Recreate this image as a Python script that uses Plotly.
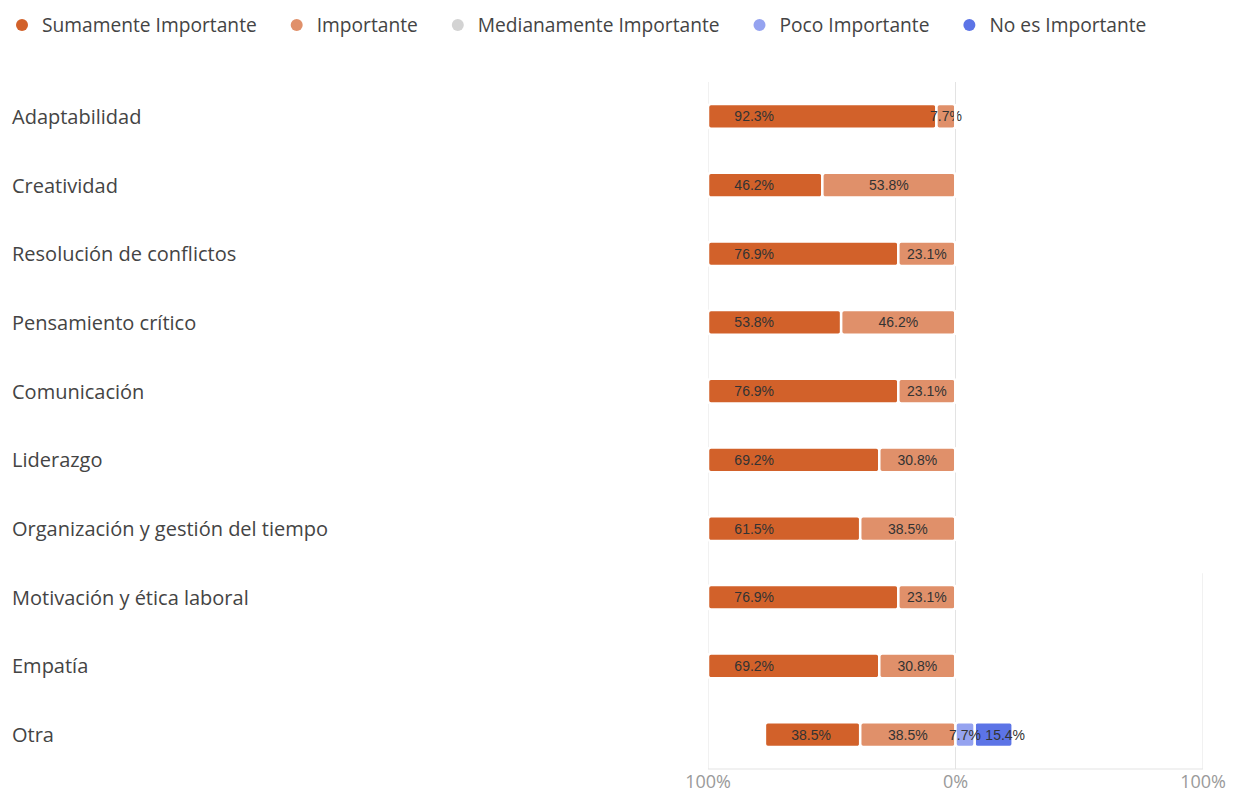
import plotly.graph_objects as go

categories = ["Adaptabilidad", "Creatividad", "Resolución de conflictos", "Pensamiento crítico",
              "Comunicación", "Liderazgo", "Organización y gestión del tiempo",
              "Motivación y ética laboral", "Empatía", "Otra"]
sumamente = [92.3, 46.2, 76.9, 53.8, 76.9, 69.2, 61.5, 76.9, 69.2, 38.5]
importante = [7.7, 53.8, 23.1, 46.2, 23.1, 30.8, 38.5, 23.1, 30.8, 38.5]
medianamente = [0, 0, 0, 0, 0, 0, 0, 0, 0, 0]
poco = [0, 0, 0, 0, 0, 0, 0, 0, 0, 7.7]
no_es = [0, 0, 0, 0, 0, 0, 0, 0, 0, 15.4]

series_names = ["Sumamente Importante", "Importante", "Medianamente Importante",
                "Poco Importante", "No es Importante"]
colors = ["#D2612A", "#E0906A", "#D3D3D3", "#95A3F0", "#5C74E6"]
x_ticks = [-100, 0, 100]
x_ticklabels = ["100%", "0%", "100%"]

W, H = 1233, 794
L, R, T, B = 708, 30, 82, 25
plot_w = W - L - R
plot_h = H - T - B

def lbl(v):
    return f"{v}%" if v > 0 else ""

half_m = [m / 2 for m in medianamente]
base_s = [-(s + i + hm) for s, i, hm in zip(sumamente, importante, half_m)]
base_i = [-(i + hm) for i, hm in zip(importante, half_m)]
base_m = [-hm for hm in half_m]
base_p = [hm for hm in half_m]
base_n = [hm + p for hm, p in zip(half_m, poco)]

fig = go.Figure()
bar_w = 0.36
line = dict(color="white", width=2.5)
textfont = dict(family="Liberation Sans, Arial", size=14, color="#333333")
common = dict(orientation="h", width=bar_w, textangle=0, constraintext="none",
              textfont=textfont, showlegend=False, hoverinfo="skip")

fig.add_trace(go.Bar(y=categories, x=sumamente, base=base_s,
                     marker=dict(color=colors[0], line=line),
                     text=[lbl(v) for v in sumamente],
                     texttemplate="&nbsp;&nbsp;&nbsp;&nbsp;&nbsp;&nbsp;%{text}",
                     textposition="inside", insidetextanchor="start", **common))
fig.add_trace(go.Bar(y=categories, x=importante, base=base_i,
                     marker=dict(color=colors[1], line=line),
                     text=[lbl(v) for v in importante], texttemplate="%{text}",
                     textposition="inside", insidetextanchor="middle", **common))
fig.add_trace(go.Bar(y=categories, x=medianamente, base=base_m,
                     marker=dict(color=colors[2], line=dict(width=0)), **common))
fig.add_trace(go.Bar(y=categories, x=no_es, base=base_n,
                     marker=dict(color=colors[4], line=line),
                     text=[lbl(v) for v in no_es], texttemplate="&nbsp;&nbsp;%{text}",
                     textposition="inside", insidetextanchor="start", **common))
fig.add_trace(go.Bar(y=categories, x=poco, base=base_p,
                     marker=dict(color=colors[3], line=line),
                     text=[lbl(v) for v in poco], texttemplate="%{text}",
                     textposition="inside", insidetextanchor="middle", **common))

# legend entries with circle markers
for name, c in zip(series_names, colors):
    fig.add_trace(go.Scatter(x=[None], y=[None], mode="markers",
                             name=name + "&nbsp;&nbsp;&nbsp;",
                             marker=dict(symbol="circle", size=12, color=c)))

# grid lines
grid_color = "#E3E3E3"
for xv in [-100, 0]:
    fig.add_shape(type="line", xref="x", yref="paper", x0=xv, x1=xv, y0=0, y1=1,
                  line=dict(color=grid_color, width=1), layer="below")
fig.add_shape(type="line", xref="x", yref="paper", x0=100, x1=100, y0=0, y1=0.285,
              line=dict(color=grid_color, width=1), layer="below")
fig.add_shape(type="line", xref="x", yref="paper", x0=-100, x1=100, y0=0, y1=0,
              line=dict(color=grid_color, width=1), layer="below")

# left-aligned category labels
for c in categories:
    fig.add_annotation(x=(10 - L) / plot_w, xref="paper", y=c, yref="y",
                       text=c, showarrow=False, xanchor="left", yanchor="middle",
                       font=dict(family="Open Sans, Noto Sans", size=20, color="#444444"))

fig.update_layout(
    width=W, height=H,
    margin=dict(l=L, r=R, t=T, b=B, pad=0, autoexpand=False),
    paper_bgcolor="white", plot_bgcolor="white",
    barmode="overlay", barcornerradius=3,
    showlegend=True,
    legend=dict(orientation="h", xref="paper", yref="paper",
                x=(2 - L) / plot_w, y=1 + (T - 6) / plot_h, xanchor="left", yanchor="top",
                font=dict(family="Open Sans, Noto Sans", size=19.2, color="#444444"),
                itemwidth=30, itemsizing="constant", traceorder="normal"),
    xaxis=dict(range=[-100, 100], tickvals=x_ticks, ticktext=x_ticklabels,
               showgrid=False, zeroline=False, showline=False,
               tickfont=dict(family="Open Sans, Noto Sans", size=18, color="#9A9A9A"),
               ticks="", fixedrange=True),
    yaxis=dict(categoryorder="array", categoryarray=categories, autorange="reversed",
               showticklabels=False, showgrid=False, zeroline=False, showline=False,
               ticks=""),
)

fig.write_html("out.html")
